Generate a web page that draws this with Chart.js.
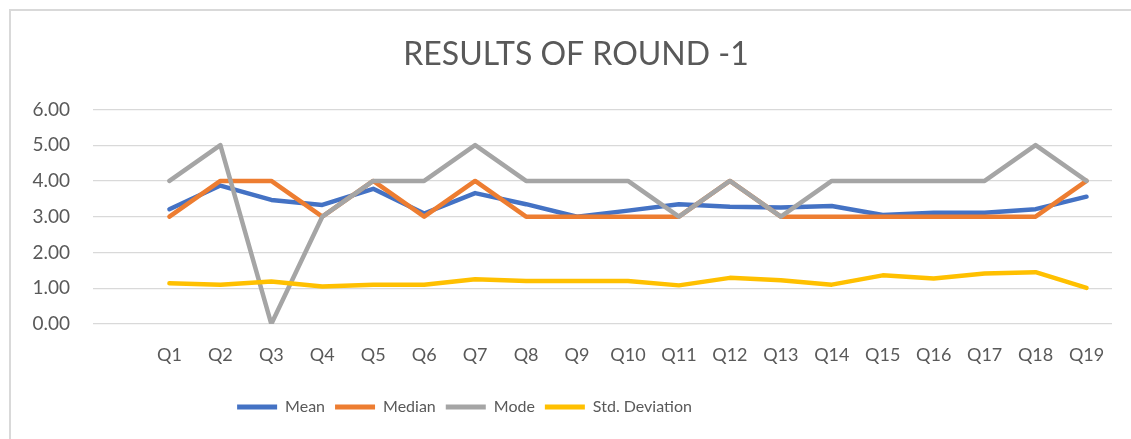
<!DOCTYPE html>
<html>
<head>
<meta charset="utf-8">
<script src="https://cdn.jsdelivr.net/npm/chart.js@4/dist/chart.umd.min.js"></script>
<style>
  html, body { margin: 0; padding: 0; background: #fff; overflow: hidden; }
  #frame {
    position: absolute; left: 9px; top: 9px; width: 1300px; height: 600px;
    border-left: 2px solid #d9d9d9; border-top: 2px solid #d9d9d9;
  }
  #wrap { position: absolute; left: 0; top: 0; width: 1131px; height: 439px; }
</style>
</head>
<body>
<div id="frame"></div>
<div id="wrap"><canvas id="chart"></canvas></div>
<script>
// values
const questions = ["Q1", "Q2", "Q3", "Q4", "Q5", "Q6", "Q7", "Q8", "Q9", "Q10",
  "Q11", "Q12", "Q13", "Q14", "Q15", "Q16", "Q17", "Q18", "Q19"];
const mean = [3.21, 3.87, 3.47, 3.33, 3.78, 3.09, 3.66, 3.35, 3.00, 3.17,
  3.35, 3.28, 3.26, 3.30, 3.05, 3.11, 3.11, 3.21, 3.56];
const median = [3, 4, 4, 3, 4, 3, 4, 3, 3, 3, 3, 4, 3, 3, 3, 3, 3, 3, 4];
const mode = [4, 5, 0, 3, 4, 4, 5, 4, 4, 4, 3, 4, 3, 4, 4, 4, 4, 5, 4];
const stdDev = [1.14, 1.10, 1.19, 1.05, 1.10, 1.10, 1.25, 1.20, 1.20, 1.20,
  1.08, 1.29, 1.22, 1.10, 1.36, 1.27, 1.41, 1.45, 1.01];
const yTicks = [0, 1, 2, 3, 4, 5, 6];

const FONT = "Lato, 'Open Sans', sans-serif";
const TEXT = "#595959";

// the source sheet has an empty first category
const labels = [""].concat(questions);
const pad = arr => [null].concat(arr);

function series(label, data, color, order) {
  return {
    label,
    data: pad(data),
    borderColor: color,
    backgroundColor: color,
    borderWidth: 4.5,
    borderCapStyle: "round",
    borderJoinStyle: "round",
    pointRadius: 0,
    tension: 0,
    order
  };
}

// Excel centres title and legend a bit differently than Chart.js does
const shiftBlocks = {
  id: "shiftBlocks",
  afterLayout(chart) {
    if (chart.titleBlock) { chart.titleBlock.left = 0; chart.titleBlock.right = 1152; }
    if (chart.legend) { chart.legend.left = 0; chart.legend.right = 929; }
  }
};

new Chart(document.getElementById("chart"), {
  type: "line",
  data: {
    labels,
    datasets: [
      series("Mean", mean, "#4472C4", 4),
      series("Median", median, "#ED7D31", 3),
      series("Mode", mode, "#A5A5A5", 2),
      series("Std. Deviation", stdDev, "#FFC000", 1)
    ]
  },
  plugins: [shiftBlocks],
  options: {
    responsive: true,
    maintainAspectRatio: false,
    animation: false,
    layout: { padding: { left: 0, right: 19, top: 0, bottom: 14 } },
    plugins: {
      title: {
        display: true,
        text: "RESULTS OF ROUND -1",
        color: TEXT,
        font: { family: FONT, size: 32, weight: "normal" },
        padding: { top: 35, bottom: 36 }
      },
      legend: {
        position: "bottom",
        labels: {
          color: TEXT,
          font: { family: FONT, size: 16 },
          boxWidth: 40,
          boxHeight: 5,
          padding: 10,
          sort: (a, b) => a.datasetIndex - b.datasetIndex,
          generateLabels: chart => chart.data.datasets.map((ds, i) => ({
            text: ds.label,
            fillStyle: ds.borderColor,
            strokeStyle: ds.borderColor,
            lineWidth: 0,
            datasetIndex: i,
            fontColor: TEXT
          }))
        }
      },
      tooltip: { enabled: false }
    },
    scales: {
      x: {
        offset: true,
        grid: { display: false },
        border: { display: false },
        ticks: {
          color: TEXT,
          font: { family: FONT, size: 18 },
          padding: 12,
          maxRotation: 0,
          autoSkip: false
        },
        afterFit: s => { s.height = 65; }
      },
      y: {
        min: 0,
        max: 6,
        afterBuildTicks: s => { s.ticks = yTicks.map(v => ({ value: v })); },
        grid: { color: "#d9d9d9", lineWidth: 1.3, drawTicks: false },
        border: { display: false },
        ticks: {
          color: TEXT,
          font: { family: FONT, size: 19 },
          padding: 23,
          callback: v => Number(v).toFixed(2)
        },
        afterFit: s => { s.width = 93; }
      }
    }
  }
});
</script>
</body>
</html>
